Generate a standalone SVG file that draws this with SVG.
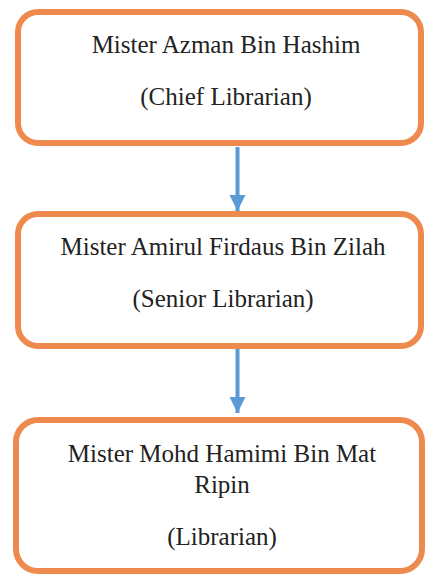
<svg xmlns="http://www.w3.org/2000/svg" width="425" height="575" viewBox="0 0 425 575">
<style>
.box{fill:#fff;stroke:#EF8A4F;stroke-width:6}
.t{font-family:'Liberation Serif','Times New Roman',serif;font-size:25px;fill:#222;text-anchor:middle}
.c{stroke:#5B9BD5;stroke-width:4;fill:none}
</style>
<defs>
<marker id="ah" viewBox="0 0 10 10" refX="10" refY="5" markerWidth="4" markerHeight="4.5" markerUnits="strokeWidth" orient="auto">
<path d="M0,0 L10,5 L0,10 z" fill="#5B9BD5"/>
</marker>
</defs>
<rect width="425" height="575" fill="#fff"/>
<g id="connectors">
<line class="c" x1="237.5" y1="147" x2="237.5" y2="211" marker-end="url(#ah)"/>
<line class="c" x1="237.5" y1="349" x2="237.5" y2="413" marker-end="url(#ah)"/>
</g>
<g id="node1">
<rect class="box" x="18" y="12" width="403" height="131" rx="20"/>
<text class="t" x="226" y="53">Mister Azman Bin Hashim</text>
<text class="t" x="226" y="105">(Chief Librarian)</text>
</g>
<g id="node2">
<rect class="box" x="18" y="214" width="403" height="132" rx="20"/>
<text class="t" x="223" y="255">Mister Amirul Firdaus Bin Zilah</text>
<text class="t" x="223" y="307">(Senior Librarian)</text>
</g>
<g id="node3">
<rect class="box" x="16" y="420" width="406" height="151" rx="22"/>
<text class="t" x="222" y="462">Mister Mohd Hamimi Bin Mat</text>
<text class="t" x="222" y="493">Ripin</text>
<text class="t" x="222" y="545">(Librarian)</text>
</g>
</svg>
